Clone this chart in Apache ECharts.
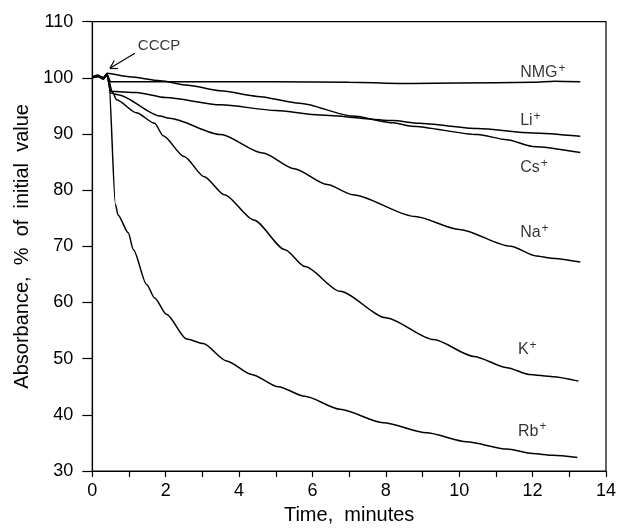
<!DOCTYPE html>
<html>
<head>
<meta charset="utf-8">
<script src="https://cdn.jsdelivr.net/npm/echarts@6/dist/echarts.min.js"></script>
<style>
  html, body { margin: 0; padding: 0; background: #fff; }
  #chart { width: 619px; height: 530px; }
</style>
</head>
<body>
<div id="chart"></div>
<script>
// ---- Data: [time (minutes), absorbance (% of initial value)] ----
const nmgData = [[0,100.2],[0.15,100.5],[0.3,99.9],[0.4,100.6],[0.5,99.3],[2,99.3],[3.5,99.3],[5,99.3],[7,99.2],[8.7,99.0],[10,99.1],[12,99.2],[12.6,99.4],[13.3,99.3]];
const liData  = [[0,100.0],[0.15,100.3],[0.3,99.8],[0.4,100.5],[0.5,97.6],[1.2,97.4],[2.0,96.5],[3.5,95.2],[5,94.2],[6.2,93.4],[8.2,92.4],[8.9,91.9],[10.5,91.0],[12,90.2],[13.3,89.6]];
const csData  = [[0,100.1],[0.15,100.2],[0.3,99.9],[0.4,100.8],[1.0,100.2],[1.85,99.5],[2.6,98.7],[3.5,97.7],[4.5,96.7],[5.65,95.5],[7.1,93.2],[8.2,92.0],[8.7,91.4],[10.5,89.9],[11.3,89.0],[12.0,87.8],[13.3,86.7]];
const naData  = [[0,100.0],[0.15,100.4],[0.3,100.1],[0.4,100.6],[0.5,97.3],[0.7,97.0],[1.85,93.2],[2.1,92.8],[3.5,89.9],[4.65,86.6],[5.5,83.8],[6.4,81.0],[7.1,79.2],[8.8,75.3],[10.0,73.0],[11.4,70.0],[12.1,68.3],[12.5,67.9],[13.3,67.2]];
const kData   = [[0,100.0],[0.15,100.3],[0.3,99.8],[0.4,100.5],[0.55,97.5],[0.66,96.1],[1.2,93.8],[1.7,91.9],[1.93,89.7],[2.5,86.0],[3.05,82.4],[3.6,79.2],[4.4,74.7],[5.25,69.4],[5.8,66.4],[6.75,62.0],[8.0,57.3],[9.3,53.4],[10.4,50.4],[11.3,48.4],[11.9,47.2],[12.55,46.8],[13.25,46.0]];
const rbData  = [[0,100.0],[0.15,100.3],[0.3,99.9],[0.4,100.7],[0.45,99.5],[0.63,77.5],[0.7,75.6],[0.98,72.4],[1.12,69.4],[1.48,63.2],[1.7,60.8],[2.02,57.9],[2.57,53.5],[3.02,52.7],[3.66,49.6],[4.34,47.2],[5.07,45.0],[5.79,43.3],[6.75,41.0],[7.93,38.6],[9.11,36.8],[10.2,35.2],[11.3,33.9],[12.0,33.1],[12.55,32.8],[13.22,32.4]];

// Curve labels: [time, absorbance, name]
const curveLabels = [[11.66,100.9,'NMG'],[11.66,92.4,'Li'],[11.66,84.0,'Cs'],[11.66,72.4,'Na'],[11.6,51.6,'K'],[11.6,37.1,'Rb']];

// Axis settings
const xMin = 0, xMax = 14, xStep = 2;
const yMin = 30, yMax = 110, yStep = 10;

const FONT = '"Liberation Sans", Arial, Helvetica, sans-serif';

function line(name, data) {
  return {
    name, type: 'line', data, showSymbol: false, symbol: 'none',
    smooth: 0.25, smoothMonotone: 'x',
    lineStyle: { color: '#000', width: 1.5 },
    z: 3, silent: true
  };
}

const chart = echarts.init(document.getElementById('chart'), null, { renderer: 'canvas' });
const arrowTip = [0.48, 101.7];
const arrowTail = [1.16, 104.4];
const wingA = [0.70, 101.7];
const wingB = [0.60, 103.1];

const option = {
  backgroundColor: '#fff',
  animation: false,
  grid: { left: 92.3, right: 12.5, top: 21.7, bottom: 58.3, show: true, borderColor: '#000', borderWidth: 1.2, backgroundColor: 'transparent' },
  xAxis: {
    type: 'value', min: xMin, max: xMax, interval: xStep,
    name: 'Time,  minutes', nameLocation: 'middle', nameGap: 34,
    nameTextStyle: { fontFamily: FONT, fontSize: 20, color: '#000' },
    axisLine: { show: true, lineStyle: { color: '#000', width: 1.2 } },
    axisTick: { show: true, length: 6, lineStyle: { color: '#000', width: 1.2 } },
    minorTick: { show: true, splitNumber: 2, length: 6, lineStyle: { color: '#000', width: 1.2 } },
    axisLabel: { fontFamily: FONT, fontSize: 18, color: '#000', margin: 11 },
    splitLine: { show: false }
  },
  yAxis: {
    type: 'value', min: yMin, max: yMax, interval: yStep,
    name: 'Absorbance,  %  of  initial  value', nameLocation: 'middle', nameGap: 56,
    nameTextStyle: { fontFamily: FONT, fontSize: 20, color: '#000' },
    axisLine: { show: true, lineStyle: { color: '#000', width: 1.2 } },
    axisTick: { show: true, length: 10, lineStyle: { color: '#000', width: 1.2 } },
    axisLabel: { fontFamily: FONT, fontSize: 18, color: '#000', margin: 19 },
    splitLine: { show: false }
  },
  series: [
    line('NMG+', nmgData),
    line('Li+', liData),
    line('Cs+', csData),
    line('Na+', naData),
    line('K+', kData),
    Object.assign(line('Rb+', rbData), {
      markLine: {
        silent: true, symbol: 'none', animation: false,
        lineStyle: { color: '#000', width: 1.2, type: 'solid' },
        label: { show: false },
        data: [
          [{ coord: arrowTail }, { coord: arrowTip }],
          [{ coord: arrowTip }, { coord: wingA }],
          [{ coord: arrowTip }, { coord: wingB }]
        ]
      }
    }),
    {
      type: 'scatter', symbolSize: 0, silent: true, z: 5,
      data: curveLabels.map(d => [d[0], d[1], d[2]]),
      label: {
        show: true, position: 'right', distance: 0, color: '#000',
        formatter: p => '{b|' + p.data[2] + '}{s|+}',
        rich: {
          b: { fontFamily: FONT, fontSize: 16, color: '#000' },
          s: { fontFamily: FONT, fontSize: 12, color: '#000', padding: [0, 0, 8, 1] }
        }
      }
    },
    {
      type: 'scatter', symbolSize: 0, silent: true, z: 5,
      data: [[1.24, 105.7, 'CCCP']],
      label: {
        show: true, position: 'right', distance: 0, color: '#000',
        fontFamily: FONT, fontSize: 15, formatter: p => p.data[2]
      }
    }
  ]
};
chart.setOption(option);
</script>
</body>
</html>
